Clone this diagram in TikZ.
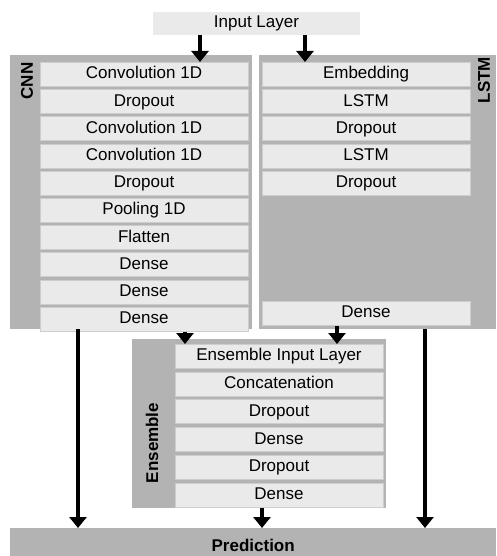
\documentclass[tikz,border=0pt]{standalone}
\usepackage{fontspec}
\setmainfont{Liberation Sans}
\usetikzlibrary{positioning,arrows.meta}

\definecolor{panelgray}{HTML}{B3B3B3}
\definecolor{layergray}{HTML}{EAEAEA}
\definecolor{layerline}{HTML}{CDCDCD}

\tikzset{
  layer/.style={fill=layergray, draw=layerline, line width=0.8pt,
    minimum width=208pt, minimum height=24pt, inner sep=0pt,
    text height=12.5pt, text depth=3.5pt,
    font=\fontsize{17}{20}\selectfont},
  panel/.style={fill=panelgray, inner sep=0pt},
  tag/.style={font=\fontsize{17}{20}\selectfont\bfseries, rotate=90},
  flow/.style={-{Triangle[width=17pt,length=11pt]}, line width=3.2pt},
}

\begin{document}
\begin{tikzpicture}[x=1pt, y=-1pt, node distance=2.4pt]

    % Fix the page to the size of the reference
    \useasboundingbox (0,0) rectangle (496,556);

    % Grey panels behind the three models and the prediction bar
    \node[panel, anchor=north west, minimum width=242pt, minimum height=274pt] (cnn) at (10,55) {};
    \node[panel, anchor=north west, minimum width=237pt, minimum height=274pt] (lstm) at (259,55) {};
    \node[panel, anchor=north west, minimum width=254pt, minimum height=169pt] (ens) at (132,339) {};
    % the bar runs on past the lower edge of the page
    \node[panel, anchor=north west, minimum width=486pt, minimum height=34pt,
          font=\fontsize{17}{20}\selectfont\bfseries] (pred) at (10,528) {Prediction};

    % Input layer at the top
    \node[layer, draw=none, minimum width=207pt, minimum height=23pt] (inp) at (256.5,23.5) {Input Layer};

    % CNN branch
    \node[layer, anchor=north] (c1) at (144,62) {Convolution 1D};
    \node[layer, below=of c1] (c2) {Dropout};
    \node[layer, below=of c2] (c3) {Convolution 1D};
    \node[layer, below=of c3] (c4) {Convolution 1D};
    \node[layer, below=of c4] (c5) {Dropout};
    \node[layer, below=of c5] (c6) {Pooling 1D};
    \node[layer, below=of c6] (c7) {Flatten};
    \node[layer, below=of c7] (c8) {Dense};
    \node[layer, below=of c8] (c9) {Dense};
    \node[layer, below=of c9] (c10) {Dense};

    % LSTM branch
    \node[layer, anchor=north] (l1) at (366,62) {Embedding};
    \node[layer, below=of l1] (l2) {LSTM};
    \node[layer, below=of l2] (l3) {Dropout};
    \node[layer, below=of l3] (l4) {LSTM};
    \node[layer, below=of l4] (l5) {Dropout};
    % the last Dense sits at the bottom of the panel
    \node[layer, anchor=north] (l6) at (366,301) {Dense};

    % Ensemble part
    \node[layer, anchor=north] (e1) at (279,344) {Ensemble Input Layer};
    \node[layer, below=2.9pt of e1] (e2) {Concatenation};
    \node[layer, below=2.9pt of e2] (e3) {Dropout};
    \node[layer, below=2.9pt of e3] (e4) {Dense};
    \node[layer, below=2.9pt of e4] (e5) {Dropout};
    \node[layer, below=2.9pt of e5] (e6) {Dense};

    % Panel titles
    \node[tag] (cnntag) at (27,81) {CNN};
    \node[tag] (lstmtag) at (484,80) {LSTM};
    \node[tag] (enstag) at (152,443) {Ensemble};

    % x positions of the arrows
    \coordinate (x1) at (200,0);
    \coordinate (x2) at (305,0);
    \coordinate (x3) at (185,0);
    \coordinate (x4) at (337,0);
    \coordinate (x5) at (78,0);
    \coordinate (x6) at (425,0);
    \coordinate (x7) at (262,0);

    % Arrows
    \draw[flow] (inp.south -| x1) -- (c1.north -| x1);
    \draw[flow] (inp.south -| x2) -- (l1.north -| x2);
    \draw[flow] (c10.south -| x3) -- (e1.north -| x3);
    \draw[flow] (l6.south -| x4) -- (e1.north -| x4);
    \draw[flow] (cnn.south -| x5) -- (pred.north -| x5);
    \draw[flow] (lstm.south -| x6) -- (pred.north -| x6);
    \draw[flow] (ens.south -| x7) -- (pred.north -| x7);

\end{tikzpicture}
\end{document}
